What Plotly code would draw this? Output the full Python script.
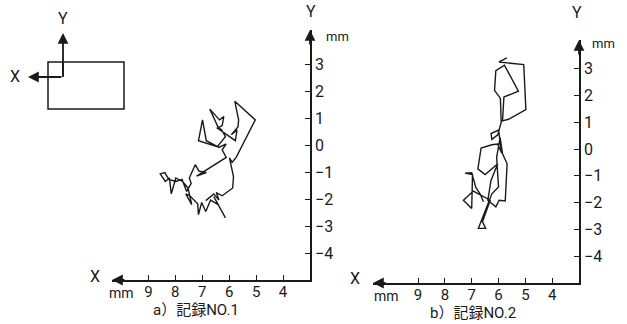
import plotly.graph_objects as go

# ---- data (mm) ----
rec1_x = [6.14, 6.57, 6.41, 6.69, 6.87, 7.02, 7.14, 7.17, 7.46, 7.61, 7.39, 7.53, 7.73, 7.98, 8.15,
          8.22, 8.37, 8.56, 8.39, 8.24, 7.98, 7.75, 7.58, 7.41, 7.48, 7.26, 7.12, 6.85, 7.21, 6.11,
          6.26, 6.11, 6.38, 6.85, 6.99, 7.14, 6.44, 6.14, 6.28, 6.41, 6.72, 6.36, 6.20, 6.26, 6.44,
          5.77, 5.71, 5.92, 5.67, 5.65, 5.79, 5.03, 5.74, 5.89, 5.99, 5.84, 5.87, 6.26, 6.48, 6.38,
          6.57, 6.87]
rec1_y = [-2.70, -1.91, -2.21, -2.04, -2.46, -2.13, -2.58, -2.18, -1.88, -1.81, -2.21, -1.59, -1.35, -1.22, -1.81,
          -1.22, -1.35, -1.07, -1.02, -1.27, -1.35, -1.27, -1.72, -1.42, -1.22, -0.73, -0.97, -1.02, -1.15, -0.46,
          -0.18, 0.04, -0.09, 0.16, 0.93, 0.16, -0.06, 0.31, 0.56, 0.66, 1.33, 0.93, 1.05, 0.72, 0.63,
          0.16, 0.56, 0.38, 0.68, 0.93, 1.62, 0.93, -0.46, -0.64, -0.48, -1.17, -1.59, -1.88, -1.76, -2.04,
          -1.81, -2.06]

rec2_x = [5.69, 5.98, 5.06, 4.98, 5.63, 5.85, 5.80, 5.26, 5.78, 6.10, 6.15, 5.93, 5.90, 6.03, 6.25,
          6.28, 6.00, 5.88, 6.03, 6.25, 6.65, 6.77, 6.50, 6.03, 6.28, 6.40, 6.10, 5.98, 5.75, 5.68,
          5.85, 5.94, 6.07, 6.00, 6.25, 6.44, 6.75, 6.48, 6.60, 6.31, 6.94, 7.31, 7.00, 6.97, 7.25,
          7.00, 6.85, 6.69, 6.56]
rec2_y = [3.40, 3.25, 3.15, 1.47, 1.11, 1.05, 1.94, 2.16, 3.13, 2.93, 2.19, 1.89, 0.99, 0.53, 0.36,
          0.58, 0.71, -0.16, 0.19, 0.16, 0.04, -0.74, -0.95, -0.55, -1.17, -1.91, -2.16, -1.91, -1.94, -0.55,
          -0.18, 0.43, -0.31, -1.42, -1.67, -2.16, -2.96, -2.96, -2.71, -1.91, -1.57, -1.91, -2.22, -0.95, -0.90,
          -0.88, -1.42, -1.67, -1.97]

x_ticks = [9, 8, 7, 6, 5, 4]
y_ticks = [3, 2, 1, 0, -1, -2, -3, -4]
caption_a = "a）記録NO.1"
caption_b = "b）記録NO.2"

W, H = 627, 324
FONT = "Roboto, Noto Sans CJK JP, sans-serif"
INK = "#1a1a1a"

def px(x):
    return x / W

def py(y):
    return 1 - y / H

fig = go.Figure()
fig.add_trace(go.Scatter(x=rec1_x, y=rec1_y, mode="lines", xaxis="x", yaxis="y",
                         line=dict(color=INK, width=1.4), showlegend=False, hoverinfo="skip"))
fig.add_trace(go.Scatter(x=rec2_x, y=rec2_y, mode="lines", xaxis="x2", yaxis="y2",
                         line=dict(color=INK, width=1.4), showlegend=False, hoverinfo="skip"))

xa_range = [10.35, 3.0]
ya_range = [-5.0, 4.26]
xb_range = [10.68, 3.0]
yb_range = [-5.0, 4.07]

common_x = dict(showline=True, linecolor=INK, linewidth=1.6, ticks="inside", ticklen=5, tickwidth=1.2,
                tickcolor=INK, showgrid=False, zeroline=False, tickvals=x_ticks,
                tickfont=dict(family=FONT, size=15, color=INK), ticklabelstandoff=-3, fixedrange=True)
common_y = dict(showline=True, linecolor=INK, linewidth=1.6, ticks="inside", ticklen=5, tickwidth=1.2,
                tickcolor=INK, showgrid=False, zeroline=False, tickvals=y_ticks, side="right",
                tickprefix="\u00a0\u00a0",
                tickfont=dict(family=FONT, size=16, color=INK), fixedrange=True)

fig.update_layout(
    width=W, height=H, margin=dict(l=0, r=0, t=0, b=0),
    paper_bgcolor="white", plot_bgcolor="white",
    font=dict(family=FONT, color=INK),
    xaxis=dict(common_x, domain=[px(112), px(310)], range=xa_range, anchor="y"),
    yaxis=dict(common_y, domain=[py(280), py(30)], range=ya_range, anchor="x"),
    xaxis2=dict(common_x, domain=[px(373), px(579)], range=xb_range, anchor="y2"),
    yaxis2=dict(common_y, domain=[py(283), py(40)], range=yb_range, anchor="x2"),
)

ann = []
arrow = dict(text="", showarrow=True, arrowhead=2, arrowsize=1.2, arrowwidth=1.8, arrowcolor=INK)
ann.append(dict(arrow, xref="x", yref="y", x=xa_range[0], y=ya_range[0], ax=14, ay=0))
ann.append(dict(arrow, xref="x", yref="y", x=xa_range[1], y=ya_range[1], ax=0, ay=16))
ann.append(dict(arrow, xref="x2", yref="y2", x=xb_range[0], y=yb_range[0], ax=14, ay=0))
ann.append(dict(arrow, xref="x2", yref="y2", x=xb_range[1], y=yb_range[1], ax=0, ay=16))
ann.append(dict(arrow, xref="paper", yref="paper", x=px(63), y=py(33), ax=0, ay=44))
ann.append(dict(arrow, xref="paper", yref="paper", x=px(28), y=py(77), ax=35, ay=0))

def label(text, x, y, size=16):
    return dict(text=text, xref="paper", yref="paper", x=px(x), y=py(y), showarrow=False,
                xanchor="center", yanchor="middle", font=dict(family=FONT, size=size, color=INK))

ann += [
    label("Y", 63, 18), label("X", 15, 77),
    label("Y", 311, 12), label("X", 95, 276), label("mm", 337, 37, 13), label("mm", 121, 293, 14),
    label("Y", 577, 13), label("X", 355, 278), label("mm", 603, 43, 13), label("mm", 386, 296, 14),
    label(caption_a, 196, 310, 15), label(caption_b, 473, 313, 15),
]
fig.update_layout(annotations=ann)

fig.add_shape(type="rect", xref="paper", yref="paper", x0=px(48), x1=px(124), y0=py(62), y1=py(109),
              line=dict(color=INK, width=1.5))
fig.add_shape(type="line", xref="paper", yref="paper", x0=px(63), x1=px(63), y0=py(77), y1=py(62),
              line=dict(color=INK, width=1.8))

fig.write_html("out.html", config={"displayModeBar": False},
               post_script="document.body.style.margin='0';")
